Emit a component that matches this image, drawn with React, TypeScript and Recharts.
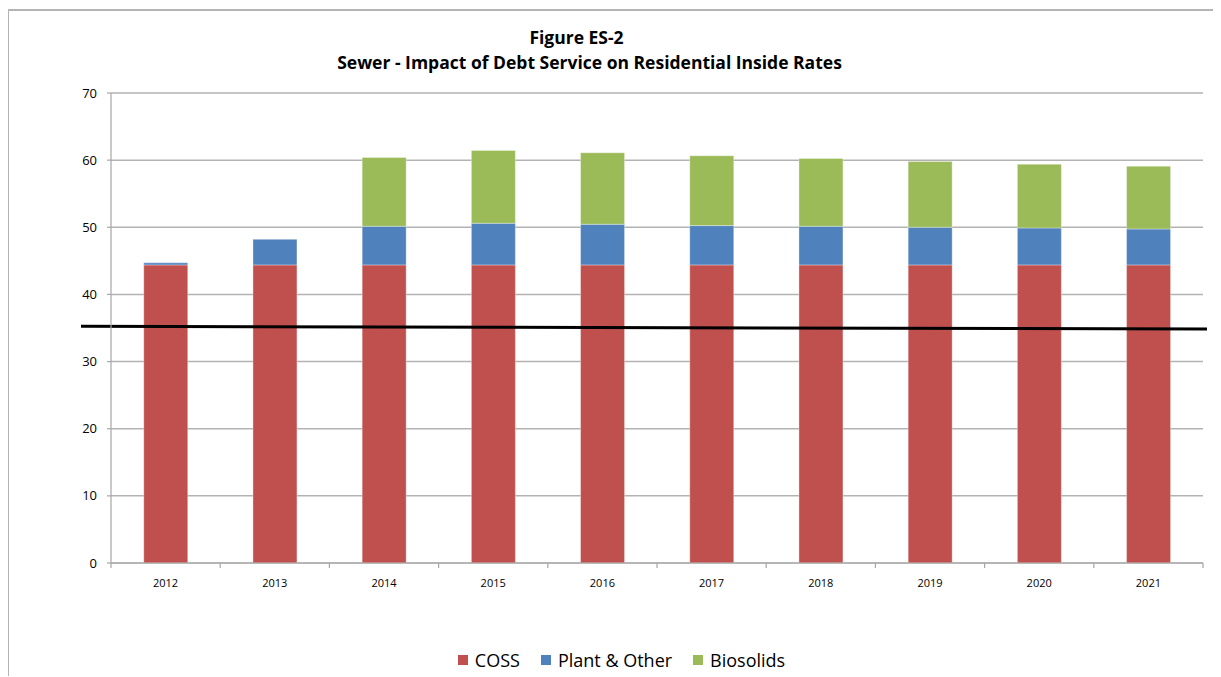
import React from 'react';
import { BarChart, Bar, XAxis, YAxis, CartesianGrid, ReferenceLine, Legend } from 'recharts';

const years = ['2012', '2013', '2014', '2015', '2016', '2017', '2018', '2019', '2020', '2021'];
const coss = [44.4, 44.4, 44.4, 44.4, 44.4, 44.4, 44.4, 44.4, 44.4, 44.4];
const plantOther = [0.3, 3.8, 5.75, 6.2, 6.05, 5.85, 5.75, 5.6, 5.5, 5.35];
const biosolids = [0, 0, 10.25, 10.85, 10.65, 10.4, 10.1, 9.8, 9.5, 9.35];
const yTicks = [0, 10, 20, 30, 40, 50, 60, 70];
// annotation line: x in category-index units, y in chart values
const lineStart = { x: -0.247, y: 35.25 };
const lineEnd = { x: 9.033, y: 34.85 };

const seriesNames = ['COSS', 'Plant & Other', 'Biosolids'];
const colors = ['#C0504D', '#4F81BD', '#9BBB59'];

const data = years.map((year, i) => ({
  year,
  coss: coss[i],
  plant: plantOther[i],
  bio: biosolids[i],
}));

const CHART_W = 1213;
const CHART_H = 667;
const MARGIN = { top: 83, right: 18, left: 0, bottom: 74 };
const Y_AXIS_W = 103;
const PLOT_W = CHART_W - MARGIN.left - MARGIN.right - Y_AXIS_W;
const BAND = PLOT_W / years.length;
const FONT = '"Open Sans", Lato, sans-serif';
const AXIS_COLOR = '#a6a6a6';

const XTick = (props: any) => {
  const { x, y, payload, index } = props;
  return (
    <g>
      <line x1={x + BAND / 2} x2={x + BAND / 2} y1={y} y2={y + 5} stroke={AXIS_COLOR} strokeWidth={1.2} />
      {index === 0 && (
        <line x1={x - BAND / 2} x2={x - BAND / 2} y1={y} y2={y + 5} stroke={AXIS_COLOR} strokeWidth={1.2} />
      )}
      <text x={x} y={y + 24} textAnchor="middle" fontSize={11} fontFamily={FONT} fill="#000">
        {payload.value}
      </text>
    </g>
  );
};

const LegendContent = () => (
  <div
    style={{
      display: 'flex',
      justifyContent: 'center',
      alignItems: 'center',
      height: 30,
      fontFamily: FONT,
      fontSize: 18,
      color: '#000',
      paddingLeft: 14,
    }}
  >
    {seriesNames.map((name, i) => (
      <div key={name} style={{ display: 'flex', alignItems: 'center', marginLeft: i === 0 ? 0 : 21 }}>
        <span style={{ width: 10, height: 10, background: colors[i], display: 'inline-block', marginRight: 7 }} />
        <span>{name}</span>
      </div>
    ))}
  </div>
);

const titleStyle: React.CSSProperties = {
  position: 'absolute',
  left: 0,
  textAlign: 'center',
  fontWeight: 700,
  fontSize: 17.5,
  lineHeight: '20px',
  color: '#000',
  whiteSpace: 'nowrap',
};

export default function App() {
  return (
    <div
      style={{
        position: 'relative',
        left: -1,
        top: 1,
        width: 1214,
        height: 668,
        fontFamily: FONT,
      }}
    >
      <style>{`body{overflow:hidden}`}</style>
      <div style={{ position: 'absolute', left: 0, top: 0, width: 2, height: 668, background: '#b4b4b4' }} />
      <div style={{ position: 'absolute', left: 0, top: 0, width: 1214, height: 2, background: '#b4b4b4' }} />
      <div style={{ ...titleStyle, top: 18, width: 1139 }}>Figure ES-2</div>
      <div style={{ ...titleStyle, top: 43, width: 1165 }}>
        Sewer - Impact of Debt Service on Residential Inside Rates
      </div>
      <div style={{ position: 'absolute', left: 1, top: 1 }}>
        <BarChart width={CHART_W} height={CHART_H} data={data} margin={MARGIN} barCategoryGap="30%">
          <CartesianGrid vertical={false} stroke="#b3b3b3" strokeWidth={1.5} />
          <XAxis
            dataKey="year"
            height={40}
            tickSize={0}
            tickMargin={0}
            tickLine={false}
            axisLine={{ stroke: AXIS_COLOR, strokeWidth: 1.2 }}
            tick={<XTick />}
            interval={0}
          />
          <XAxis xAxisId="num" type="number" domain={[0, 9]} allowDataOverflow hide />
          <YAxis
            width={Y_AXIS_W}
            domain={[0, 70]}
            ticks={yTicks}
            tickSize={4}
            tickMargin={10}
            tickLine={{ stroke: AXIS_COLOR, strokeWidth: 1.2 }}
            axisLine={{ stroke: AXIS_COLOR, strokeWidth: 1.2 }}
            tick={{ fontSize: 13, fontFamily: FONT, fill: '#000' }}
            interval={0}
          />
          <Bar dataKey="coss" name={seriesNames[0]} stackId="a" fill={colors[0]} stroke="#ffffff" strokeOpacity={0.35} isAnimationActive={false} />
          <Bar dataKey="plant" name={seriesNames[1]} stackId="a" fill={colors[1]} stroke="#ffffff" strokeOpacity={0.35} isAnimationActive={false} />
          <Bar dataKey="bio" name={seriesNames[2]} stackId="a" fill={colors[2]} stroke="#ffffff" strokeOpacity={0.35} isAnimationActive={false} />
          <ReferenceLine
            xAxisId="num"
            segment={[lineStart, lineEnd]}
            ifOverflow="visible"
            stroke="#000"
            strokeWidth={3}
          />
          <Legend
            verticalAlign="middle"
            align="center"
            layout="horizontal"
            wrapperStyle={{ top: 635, left: 0, width: CHART_W }}
            content={<LegendContent />}
          />
        </BarChart>
      </div>
    </div>
  );
}
